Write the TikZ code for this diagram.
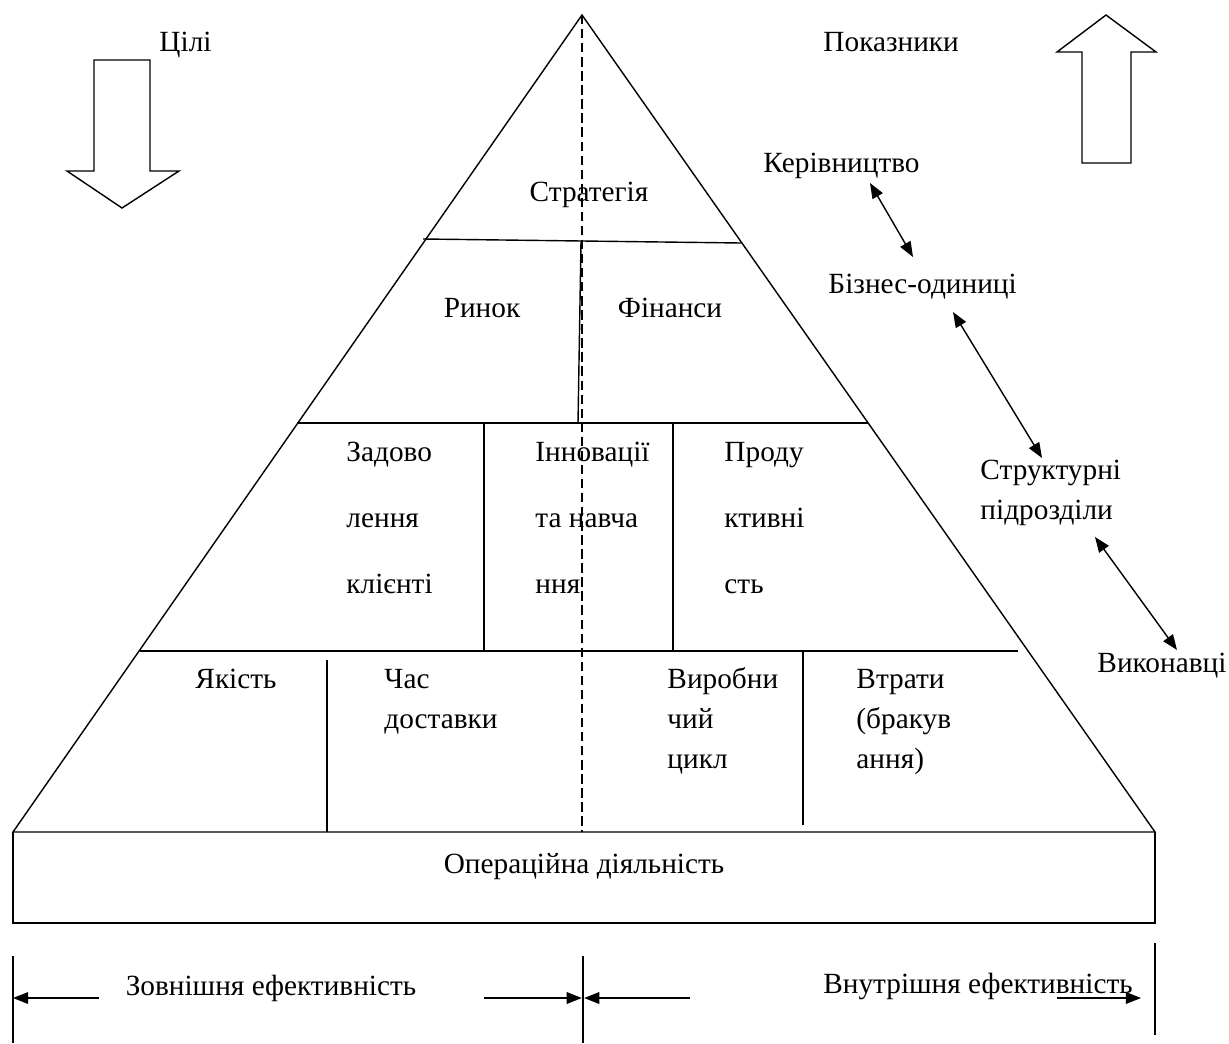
\documentclass[tikz,border=0pt]{standalone}
\usepackage{fontspec}
\setmainfont{Liberation Serif}
\usetikzlibrary{arrows.meta,calc}

\begin{document}
\begin{tikzpicture}[
  x=0.015cm, y=-0.015cm,
  font=\fontsize{12.5}{14}\selectfont,
  ln/.style={line width=0.6pt},
  lbl/.style={inner sep=0pt, anchor=base},
  cell/.style={inner sep=0pt, anchor=base west, align=left},
  wide/.style={font=\fontsize{12.5}{28}\selectfont},
  tight/.style={font=\fontsize{12.5}{17}\selectfont},
  blockarr/.style={ln, line join=miter},
  dbl/.style={ln, {Triangle[length=6.5pt,width=5pt]}-{Triangle[length=6.5pt,width=5pt]}},
  dim/.style={ln, -{Triangle[length=6.5pt,width=5pt]}}
]
\useasboundingbox (0,0) rectangle (1229,1043);

% ---- Pyramid outline ----
\coordinate (apex) at (582,15);
\coordinate (bl) at (13,832);
\coordinate (br) at (1155,832);
\draw[ln] (bl) -- (apex) -- (br) -- cycle;
\draw[ln, dash pattern=on 4pt off 2pt] (apex) -- (582,832);

% ---- Levels ----
\draw[ln] (423,239) -- (741,243);
\draw[ln] (297,423) -- (868,423);
\draw[ln] (140,651) -- (1018,651);
\draw[ln] (581,241) -- (578,423);
\draw[ln] (484,423) -- (484,651);
\draw[ln] (673,423) -- (673,651);
\draw[ln] (327,660) -- (327,832);
\draw[ln] (803,651) -- (803,825);

% ---- Operations box ----
\draw[ln] (bl) -- (13,923) -- (1155,923) -- (br);
\node[lbl] (oper) at (584,873) {Операційна діяльність};

% ---- Cells (anchored at the last line) ----
\node[lbl] (strat) at (589,201) {Стратегія};
\node[lbl] (rynok) at (482,317) {Ринок};
\node[lbl] (fin) at (670,317) {Фінанси};
\node[cell, wide] (zad) at (346,593) {Задово\\лення\\клієнті};
\node[cell, wide] (inn) at (535,593) {Інновації\\та навча\\ння};
\node[cell, wide] (prod) at (724,593) {Проду\\ктивні\\сть};
\node[lbl] (yak) at (236,688) {Якість};
\node[cell, tight] (chas) at (384,728) {Час\\доставки};
\node[cell, tight] (vyr) at (667,768) {Виробни\\чий\\цикл};
\node[cell, tight] (vtr) at (856,768) {Втрати\\(бракув\\ання)};

% ---- Goals / indicators ----
\node[cell] (cili) at (159,52) {Цілі};
\draw[blockarr] (94,60) -- (150,60) -- (150,171) -- (179,171) -- (122,208) -- (67,171) -- (94,171) -- cycle;
\node[cell] (pok) at (823,52) {Показники};
\draw[blockarr] (1082,163) -- (1082,52) -- (1057,52) -- (1106,15) -- (1156,52) -- (1131,52) -- (1131,163) -- cycle;

% ---- Management levels ----
\node[cell] (ker) at (763,172) {Керівництво};
\node[cell] (biz) at (828,293) {Бізнес-одиниці};
\node[cell, tight] (strukt) at (980,519) {Структурні\\підрозділи};
\node[cell] (vyk) at (1097,672) {Виконавці};
\coordinate (kerB) at (870,183);
\coordinate (bizT) at (913,257);
\coordinate (bizB) at (953,312);
\coordinate (strT) at (1042,458);
\coordinate (strB) at (1095,537);
\coordinate (vykT) at (1177,650);
\draw[dbl] (kerB) -- (bizT);
\draw[dbl] (bizB) -- (strT);
\draw[dbl] (strB) -- (vykT);

% ---- Efficiency ----
\coordinate (barL) at (13,998);
\coordinate (barM) at (583,998);
\coordinate (barR) at (1155,998);
\draw[ln] (13,956) -- (13,1043);
\draw[ln] (583,956) -- (583,1043);
\draw[ln] (1155,943) -- (1155,1035);
\node[lbl] (zovn) at (271,995) {Зовнішня ефективність};
\node[lbl] (vnutr) at (978,993) {Внутрішня ефективність};
\coordinate (zl) at (99,998);
\coordinate (zr) at (484,998);
\coordinate (vl) at (690,998);
\coordinate (vr) at (1057,998);
\draw[dim] (zl) -- (barL);
\draw[dim] (zr) -- ([xshift=-0.5pt]barM);
\draw[dim] (vl) -- ([xshift=0.5pt]barM);
\draw[dim] (vr) -- (1141,998);

\end{tikzpicture}
\end{document}
